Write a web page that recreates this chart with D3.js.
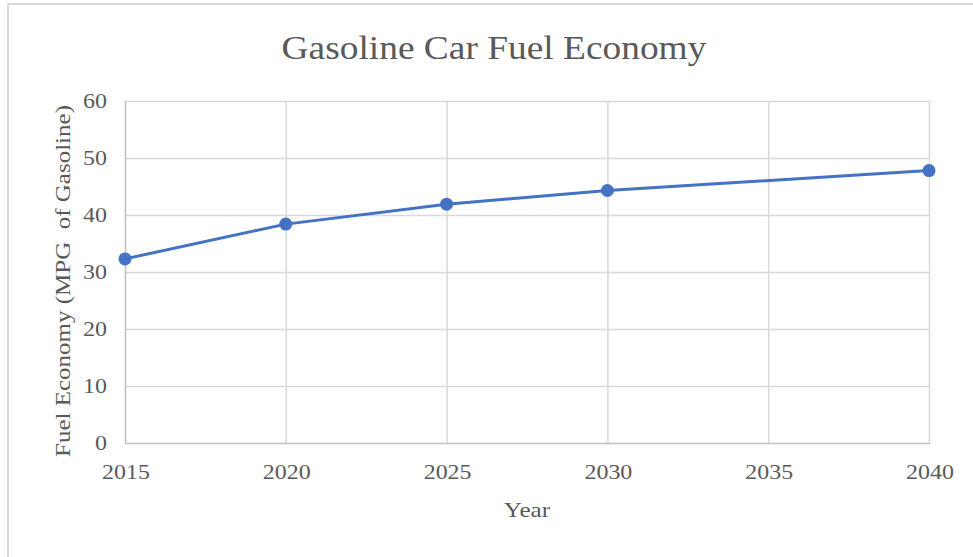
<!DOCTYPE html>
<html>
<head>
<meta charset="utf-8">
<script src="https://cdn.jsdelivr.net/npm/d3@7"></script>
<style>
  body { margin: 0; background: #fff; }
  svg text { font-family: "Liberation Serif", "Times New Roman", serif; fill: #595959; }
</style>
</head>
<body>
<svg id="chart" width="973" height="557"></svg>
<script>
// data
var years = [2015, 2020, 2025, 2030, 2040];
var mpg = [32.3, 38.4, 41.9, 44.3, 47.8];
var xTicks = [2015, 2020, 2025, 2030, 2035, 2040];
var yTicks = [0, 10, 20, 30, 40, 50, 60];

var svg = d3.select("#chart");
var plotL = 125, plotR = 929, plotT = 101, plotB = 443;
var stretch = 1.14; // the reference text is a bit wider than Liberation Serif

// stretch a text horizontally, keeping its anchor
function widen(sel, factor) {
    sel.each(function() {
        var len = this.getComputedTextLength();
        d3.select(this)
            .attr("textLength", len * factor)
            .attr("lengthAdjust", "spacingAndGlyphs");
    });
}

// outer frame (only top and left edges are visible)
svg.append("path")
    .attr("d", "M8,557 L8,4 L973,4")
    .attr("fill", "none")
    .attr("stroke", "#d9d9d9")
    .attr("stroke-width", 2);

var x = d3.scaleLinear().domain([2015, 2040]).range([plotL, plotR]);
var y = d3.scaleLinear().domain([0, 60]).range([plotB, plotT]);

// gridlines
svg.append("g").selectAll("line")
    .data(yTicks.filter(function(d) { return d > 0; }))
    .join("line")
    .attr("x1", plotL).attr("x2", plotR)
    .attr("y1", function(d) { return y(d) + 0.5; })
    .attr("y2", function(d) { return y(d) + 0.5; })
    .attr("stroke", "#d9d9d9").attr("stroke-width", 1.5);

svg.append("g").selectAll("line")
    .data(xTicks.filter(function(d) { return d > 2015; }))
    .join("line")
    .attr("y1", plotT).attr("y2", plotB)
    .attr("x1", function(d) { return x(d) + 0.5; })
    .attr("x2", function(d) { return x(d) + 0.5; })
    .attr("stroke", "#d9d9d9").attr("stroke-width", 1.5);

// axis lines
svg.append("line")
    .attr("x1", plotL + 0.5).attr("x2", plotL + 0.5)
    .attr("y1", plotT).attr("y2", plotB + 0.5)
    .attr("stroke", "#bfbfbf").attr("stroke-width", 1.5);
svg.append("line")
    .attr("x1", plotL).attr("x2", plotR + 1)
    .attr("y1", plotB + 0.5).attr("y2", plotB + 0.5)
    .attr("stroke", "#bfbfbf").attr("stroke-width", 1.5);

// tick labels
svg.append("g").selectAll("text")
    .data(yTicks)
    .join("text")
    .attr("x", 107)
    .attr("y", function(d) { return y(d); })
    .attr("dy", "0.35em")
    .attr("text-anchor", "end")
    .style("font-size", "21px")
    .text(function(d) { return d; })
    .call(widen, stretch);

svg.append("g").selectAll("text")
    .data(xTicks)
    .join("text")
    .attr("x", function(d) { return x(d) + 1; })
    .attr("y", 479)
    .attr("text-anchor", "middle")
    .style("font-size", "21px")
    .text(function(d) { return d; })
    .call(widen, stretch);

// titles
svg.append("text")
    .attr("x", 494).attr("y", 59)
    .attr("text-anchor", "middle")
    .style("font-size", "34px")
    .text("Gasoline Car Fuel Economy")
    .call(widen, 1.1);

svg.append("text")
    .attr("x", 527).attr("y", 517)
    .attr("text-anchor", "middle")
    .style("font-size", "21px")
    .text("Year")
    .call(widen, 1.2);

svg.append("text")
    .attr("transform", "translate(70,281) rotate(-90)")
    .attr("text-anchor", "middle")
    .style("font-size", "21px")
    .style("white-space", "pre")
    .text("Fuel Economy (MPG  of Gasoline)")
    .call(widen, 1.19);

// series
var line = d3.line()
    .x(function(d, i) { return x(years[i]); })
    .y(function(d) { return y(d); });

svg.append("path")
    .datum(mpg)
    .attr("d", line)
    .attr("fill", "none")
    .attr("stroke", "#4472c4")
    .attr("stroke-width", 3)
    .attr("stroke-linejoin", "round");

svg.append("g").selectAll("circle")
    .data(mpg)
    .join("circle")
    .attr("cx", function(d, i) { return x(years[i]); })
    .attr("cy", function(d) { return y(d); })
    .attr("r", 6.5)
    .attr("fill", "#4472c4");
</script>
</body>
</html>
